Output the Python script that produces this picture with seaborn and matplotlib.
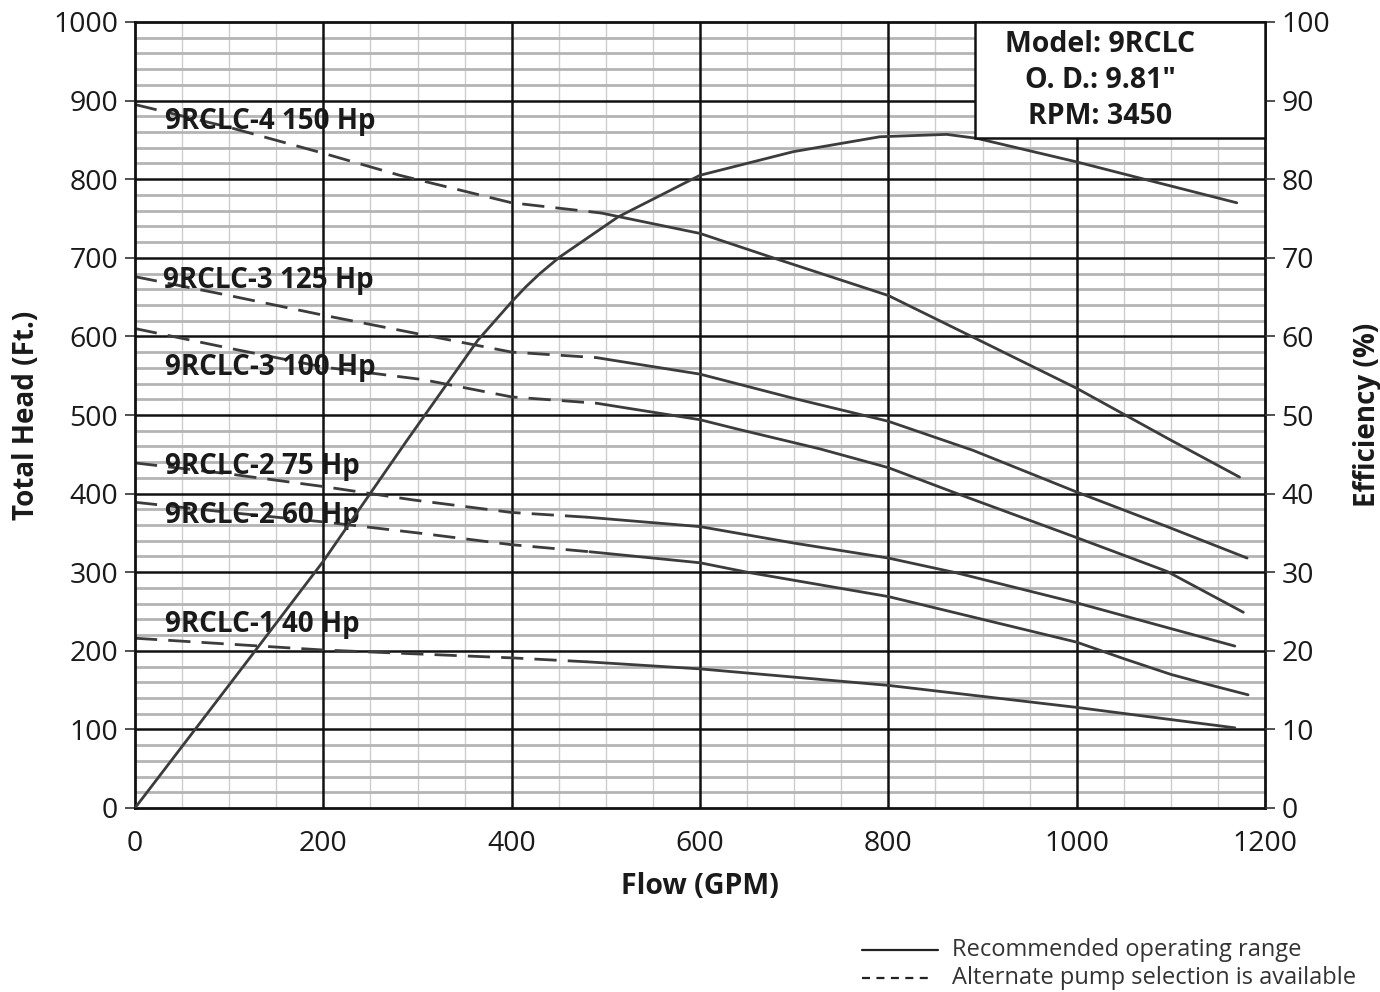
import numpy as np
import matplotlib
matplotlib.use("Agg")
import matplotlib.pyplot as plt
from matplotlib.lines import Line2D
import seaborn as sns

# pump curves: flow (GPM) and total head (ft)
curve_names = ["9RCLC-4 150 Hp", "9RCLC-3 125 Hp", "9RCLC-3 100 Hp",
               "9RCLC-2 75 Hp", "9RCLC-2 60 Hp", "9RCLC-1 40 Hp"]

flow_150 = [0, 100, 200, 281, 400, 495, 600, 675, 800, 890, 1000, 1050, 1100, 1173]
head_150 = [895, 866, 833, 805, 770, 757, 731, 701, 652, 599, 534, 501, 468, 421]

flow_125 = [0, 100, 200, 306, 400, 490, 600, 700, 800, 890, 1000, 1096, 1181]
head_125 = [676, 652, 627, 602, 580, 573, 552, 521, 492, 455, 402, 358, 318]

flow_100 = [0, 100, 200, 306, 400, 490, 600, 640, 727, 800, 873, 1000, 1096, 1177]
head_100 = [610, 585, 561, 545, 523, 515, 494, 482, 457, 433, 400, 344, 301, 249]

flow_75 = [0, 100, 200, 295, 400, 480, 600, 700, 800, 873, 1000, 1168]
head_75 = [439, 425, 409, 392, 376, 370, 358, 337, 318, 299, 261, 206]

flow_60 = [0, 100, 200, 300, 400, 483, 600, 650, 800, 1000, 1050, 1100, 1140, 1182]
head_60 = [389, 376, 364, 350, 335, 326, 312, 300, 269, 211, 190, 170, 157, 144]

flow_40 = [0, 200, 400, 480, 600, 800, 1000, 1168]
head_40 = [216, 201, 191, 186, 177, 156, 128, 102]

# flow where the dashed "alternate selection" part ends
dashed_until = [495, 490, 490, 480, 483, 480]

# efficiency curve (%)
flow_eff = [0, 120, 200, 289, 364, 400, 415, 430, 451, 513, 600, 699, 791, 862, 894, 1000, 1075, 1170]
eff = [0, 18.8, 31.4, 46.8, 59.5, 64.4, 66.3, 68.0, 70.1, 75.2, 80.5, 83.5, 85.4, 85.7, 85.2, 82.2, 79.9, 77.0]

info_lines = ["Model: 9RCLC", "O. D.: 9.81\"", "RPM: 3450"]
legend_labels = ["Recommended operating range", "Alternate pump selection is available"]

flows = [flow_150, flow_125, flow_100, flow_75, flow_60, flow_40]
heads = [head_150, head_125, head_100, head_75, head_60, head_40]
# label anchor (flow, head) for each curve name
label_pos = [(32, 873), (30, 671), (32, 561), (32, 435), (32, 372), (32, 233)]

sns.set_style("white")
plt.rcParams['font.family'] = ['Open Sans', 'DejaVu Sans']

line_col = "#3c3c3c"
text_col = "#1a1a1a"

fig = plt.figure(figsize=(13.8, 9.92), dpi=100)
ax = fig.add_axes([135 / 1380, 1 - 808 / 992, 1130 / 1380, 786 / 992])

ax.set_xlim(0, 1200)
ax.set_ylim(0, 1000)

# grid: minor first, then majors on top
for x in np.arange(50, 1200, 50):
    if x % 200:
        ax.axvline(x, color="#cdcdcd", lw=1.0, zorder=1)
for y in np.arange(20, 1000, 20):
    if y % 100:
        ax.axhline(y, color="#b4b4b4", lw=2.0, zorder=1)
for x in np.arange(200, 1200, 200):
    ax.axvline(x, color="#111111", lw=1.8, zorder=2)
for y in np.arange(100, 1000, 100):
    ax.axhline(y, color="#111111", lw=1.8, zorder=2)

# pump curves, dashed then solid
for fl, hd, cut in zip(flows, heads, dashed_until):
    fl = np.array(fl)
    hd = np.array(hd)
    m1 = fl <= cut
    m2 = fl >= cut
    sns.lineplot(x=fl[m1], y=hd[m1], ax=ax, color=line_col, lw=2.0,
                 linestyle=(0, (8, 4)), zorder=4)
    sns.lineplot(x=fl[m2], y=hd[m2], ax=ax, color=line_col, lw=2.0, zorder=4)

for name, (px, py) in zip(curve_names, label_pos):
    ax.text(px, py, name, fontsize=20, fontweight="bold", color=text_col,
            va="center", ha="left", zorder=6)

ax.set_xticks(np.arange(0, 1201, 200))
ax.set_yticks(np.arange(0, 1001, 100))
ax.tick_params(axis="both", direction="out", length=7, width=1.2,
               colors="#333333", labelsize=20.5, labelcolor=text_col, pad=5)
ax.tick_params(axis="x", pad=9)
for sp in ax.spines.values():
    sp.set_color("#111111")
    sp.set_linewidth(2.0)
    sp.set_zorder(5)

ax.set_xlabel("Flow (GPM)", fontsize=20.5, fontweight="bold", color=text_col, labelpad=10)
ax.set_ylabel("Total Head (Ft.)", fontsize=20, fontweight="bold", color=text_col, labelpad=9)

# efficiency on right axis
ax2 = ax.twinx()
ax2.set_ylim(0, 100)
sns.lineplot(x=flow_eff, y=eff, ax=ax2, color=line_col, lw=2.0, zorder=4)
ax2.set_yticks(np.arange(0, 101, 10))
ax2.tick_params(axis="y", direction="out", length=7, width=1.2,
                colors="#333333", labelsize=20.5, labelcolor=text_col, pad=5)
ax2.set_ylabel("Efficiency (%)", fontsize=20, fontweight="bold", color=text_col, labelpad=16)
for sp in ax2.spines.values():
    sp.set_visible(False)

# model info box
box = plt.Rectangle((975 / 1380, 1 - 138 / 992), 290 / 1380, 116 / 992,
                    transform=fig.transFigure, facecolor="white",
                    edgecolor="#111111", lw=1.8, zorder=10)
fig.add_artist(box)
for i, t in enumerate(info_lines):
    fig.text(1100 / 1380, 1 - (45 + 35.5 * i) / 992, t, fontsize=20.5, fontweight="bold",
             color=text_col, ha="center", va="center", zorder=11)

# key below the chart
fig.add_artist(Line2D([862 / 1380, 938 / 1380], [1 - 950 / 992, 1 - 950 / 992],
                      transform=fig.transFigure, color="#222222", lw=1.6))
fig.add_artist(Line2D([862 / 1380, 929 / 1380], [1 - 978 / 992, 1 - 978 / 992],
                      transform=fig.transFigure, color="#222222", lw=1.6,
                      linestyle=(0, (3.6, 2.9))))
fig.text(952 / 1380, 1 - 950 / 992, legend_labels[0], fontsize=17, color="#333333",
         ha="left", va="center")
fig.text(952 / 1380, 1 - 978 / 992, legend_labels[1], fontsize=17, color="#333333",
         ha="left", va="center")

fig.savefig("out.png", dpi=100, facecolor="white")
plt.close(fig)
